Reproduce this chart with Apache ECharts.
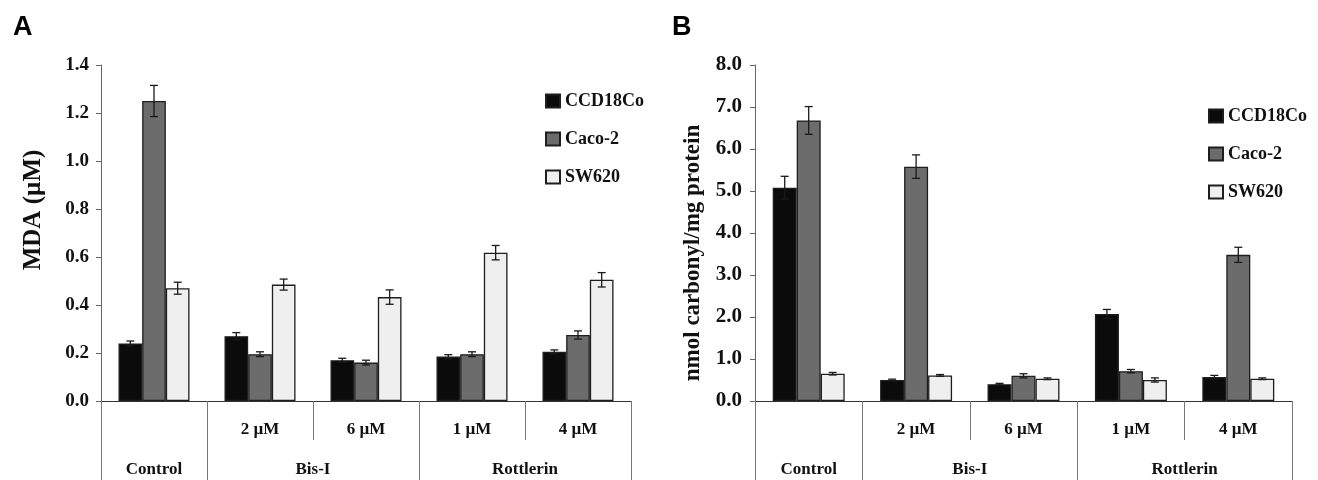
<!DOCTYPE html>
<html>
<head>
<meta charset="utf-8">
<script src="https://cdn.jsdelivr.net/npm/echarts@6/dist/echarts.min.js"></script>
<style>
html,body{margin:0;padding:0;background:#fff;}
#chart{width:1318px;height:480px;}
</style>
</head>
<body>
<div id="chart"></div>
<script>
// ---- data ----
const subCategories = ['', '2 µM', '6 µM', '1 µM', '4 µM'];
const groupLabels = ['Control', 'Bis-I', 'Rottlerin'];
const groupSpans = [1, 2, 2];
const seriesNames = ['CCD18Co', 'Caco-2', 'SW620'];

const mdaCCD = [0.24, 0.27, 0.17, 0.185, 0.205];
const mdaCCDErr = [0.01, 0.015, 0.008, 0.008, 0.008];
const mdaCaco = [1.25, 0.195, 0.16, 0.195, 0.275];
const mdaCacoErr = [0.065, 0.01, 0.01, 0.01, 0.017];
const mdaSW = [0.47, 0.485, 0.433, 0.618, 0.505];
const mdaSWErr = [0.025, 0.023, 0.03, 0.03, 0.03];

const carbCCD = [5.08, 0.5, 0.40, 2.07, 0.57];
const carbCCDErr = [0.27, 0.02, 0.02, 0.11, 0.04];
const carbCaco = [6.68, 5.58, 0.60, 0.71, 3.48];
const carbCacoErr = [0.33, 0.28, 0.05, 0.04, 0.18];
const carbSW = [0.65, 0.61, 0.53, 0.50, 0.53];
const carbSWErr = [0.03, 0.02, 0.02, 0.05, 0.02];

const yNameA = 'MDA (µM)';
const yNameB = 'nmol carbonyl/mg protein';

// ---- style ----
const SERIF = '"Liberation Serif", "Times New Roman", serif';
const fills = ['#0b0b0b', '#6c6c6c', '#efefef'];
const CAT_GAP = 0.33;

// group label centres (in category units) from spans
const groupCenters = [];
(function () { let acc = 0; groupSpans.forEach(s => { groupCenters.push(acc + s / 2); acc += s; }); })();
// long separators at group boundaries
const groupStarts = [];
(function () { let acc = 0; groupSpans.forEach(s => { groupStarts.push(acc); acc += s; }); })();

function errRender(offsetIdx) {
  return function (params, api) {
    const cat = api.value(0), val = api.value(1), err = api.value(2);
    const band = api.size([1, 0])[0];
    const barW = band * (1 - CAT_GAP) / 3;
    const x = api.coord([cat, val])[0] + (offsetIdx - 1) * barW;
    const hi = api.coord([cat, val + err])[1];
    const lo = api.coord([cat, val - err])[1];
    const cap = 4;
    const st = { stroke: '#1a1a1a', lineWidth: 1.3 };
    return {
      type: 'group',
      children: [
        { type: 'line', shape: { x1: x, y1: hi, x2: x, y2: lo }, style: st },
        { type: 'line', shape: { x1: x - cap, y1: hi, x2: x + cap, y2: hi }, style: st },
        { type: 'line', shape: { x1: x - cap, y1: lo, x2: x + cap, y2: lo }, style: st }
      ]
    };
  };
}

function panelAxes(gridIndex) {
  return [
    { // main category axis with sub labels
      type: 'category', gridIndex: gridIndex, position: 'bottom', data: subCategories,
      axisLine: { show: true, lineStyle: { color: '#333', width: 1.2 } },
      axisTick: { show: true, interval: 0, length: 39, lineStyle: { color: '#777', width: 1 } },
      axisLabel: { interval: 0, margin: 20, fontFamily: SERIF, fontWeight: 'bold', fontSize: 17, color: '#111' },
      splitLine: { show: false }
    },
    { // long separators between groups
      type: 'category', gridIndex: gridIndex, position: 'bottom', data: subCategories,
      axisLine: { show: false },
      axisTick: { show: true, length: 79, interval: function (idx) { return groupStarts.indexOf(idx) >= 0; }, lineStyle: { color: '#777', width: 1 } },
      axisLabel: { show: false },
      splitLine: { show: false }
    },
    { // group labels
      type: 'value', gridIndex: gridIndex, position: 'bottom', min: 0, max: subCategories.length, interval: 0.5,
      axisLine: { show: false }, axisTick: { show: false }, splitLine: { show: false },
      axisLabel: {
        margin: 60, fontFamily: SERIF, fontWeight: 'bold', fontSize: 17, color: '#111',
        showMinLabel: true, showMaxLabel: true,
        formatter: function (v) {
          for (let i = 0; i < groupCenters.length; i++) if (Math.abs(v - groupCenters[i]) < 1e-6) return groupLabels[i];
          return '';
        }
      }
    }
  ];
}

function barSeries(xIdx, yIdx, name, vals, fill) {
  return {
    type: 'bar', name: name, xAxisIndex: xIdx, yAxisIndex: yIdx, data: vals,
    barGap: '0%', barCategoryGap: (CAT_GAP * 100) + '%',
    itemStyle: { color: fill, borderColor: '#1e1e1e', borderWidth: 1.3 },
    emphasis: { disabled: true }, z: 2
  };
}
function errSeries(xIdx, yIdx, offsetIdx, vals, errs) {
  return {
    type: 'custom', xAxisIndex: xIdx, yAxisIndex: yIdx,
    data: vals.map((v, i) => [i, v, errs[i]]),
    encode: { x: 0, y: 1 },
    renderItem: errRender(offsetIdx), z: 5, silent: true
  };
}

const legendText = { fontFamily: SERIF, fontWeight: 'bold', fontSize: 18, color: '#111' };
const chart = echarts.init(document.getElementById('chart'), null, { renderer: 'canvas' });
const option = {
  backgroundColor: '#ffffff',
  animation: false,
  title: [
    { text: 'A', left: 8, top: 9, textStyle: { fontFamily: '"Liberation Sans", Arial, sans-serif', fontWeight: 'bold', fontSize: 27, color: '#000' } },
    { text: 'B', left: 667, top: 9, textStyle: { fontFamily: '"Liberation Sans", Arial, sans-serif', fontWeight: 'bold', fontSize: 27, color: '#000' } }
  ],
  legend: [
    {
      data: seriesNames, orient: 'vertical', left: 540, top: 87, icon: 'rect', itemWidth: 14, itemHeight: 13, itemGap: 20,
      textStyle: legendText, selectedMode: false
    },
    {
      data: seriesNames, orient: 'vertical', left: 1203, top: 102, icon: 'rect', itemWidth: 14, itemHeight: 13, itemGap: 20,
      textStyle: legendText, selectedMode: false
    }
  ],
  grid: [
    { left: 101, top: 65, width: 530, height: 336 },
    { left: 755, top: 65, width: 537, height: 336 }
  ],
  xAxis: panelAxes(0).concat(panelAxes(1)),
  yAxis: [
    {
      type: 'value', gridIndex: 0, min: 0, max: 1.4, interval: 0.2,
      name: yNameA, nameLocation: 'middle', nameGap: 55, nameRotate: 90,
      nameTextStyle: { fontFamily: SERIF, fontWeight: 'bold', fontSize: 25, color: '#111', padding: [0, 0, 0, 46] },
      axisLine: { show: true, lineStyle: { color: '#666', width: 1 } },
      axisTick: { show: true, inside: false, length: 5, lineStyle: { color: '#666' } },
      axisLabel: { margin: 12, fontFamily: SERIF, fontWeight: 'bold', fontSize: 19, color: '#111', formatter: v => v.toFixed(1) },
      splitLine: { show: false }
    },
    {
      type: 'value', gridIndex: 1, min: 0, max: 8, interval: 1,
      name: yNameB, nameLocation: 'middle', nameGap: 50, nameRotate: 90,
      nameTextStyle: { fontFamily: SERIF, fontWeight: 'bold', fontSize: 23, color: '#111', padding: [0, 40, 0, 0] },
      axisLine: { show: true, lineStyle: { color: '#666', width: 1 } },
      axisTick: { show: true, inside: false, length: 5, lineStyle: { color: '#666' } },
      axisLabel: { margin: 13, fontFamily: SERIF, fontWeight: 'bold', fontSize: 21, color: '#111', formatter: v => v.toFixed(1) },
      splitLine: { show: false }
    }
  ],
  series: [
    barSeries(0, 0, seriesNames[0], mdaCCD, fills[0]),
    barSeries(0, 0, seriesNames[1], mdaCaco, fills[1]),
    barSeries(0, 0, seriesNames[2], mdaSW, fills[2]),
    errSeries(0, 0, 0, mdaCCD, mdaCCDErr),
    errSeries(0, 0, 1, mdaCaco, mdaCacoErr),
    errSeries(0, 0, 2, mdaSW, mdaSWErr),
    barSeries(3, 1, seriesNames[0], carbCCD, fills[0]),
    barSeries(3, 1, seriesNames[1], carbCaco, fills[1]),
    barSeries(3, 1, seriesNames[2], carbSW, fills[2]),
    errSeries(3, 1, 0, carbCCD, carbCCDErr),
    errSeries(3, 1, 1, carbCaco, carbCacoErr),
    errSeries(3, 1, 2, carbSW, carbSWErr)
  ]
};
chart.setOption(option);
</script>
</body>
</html>
